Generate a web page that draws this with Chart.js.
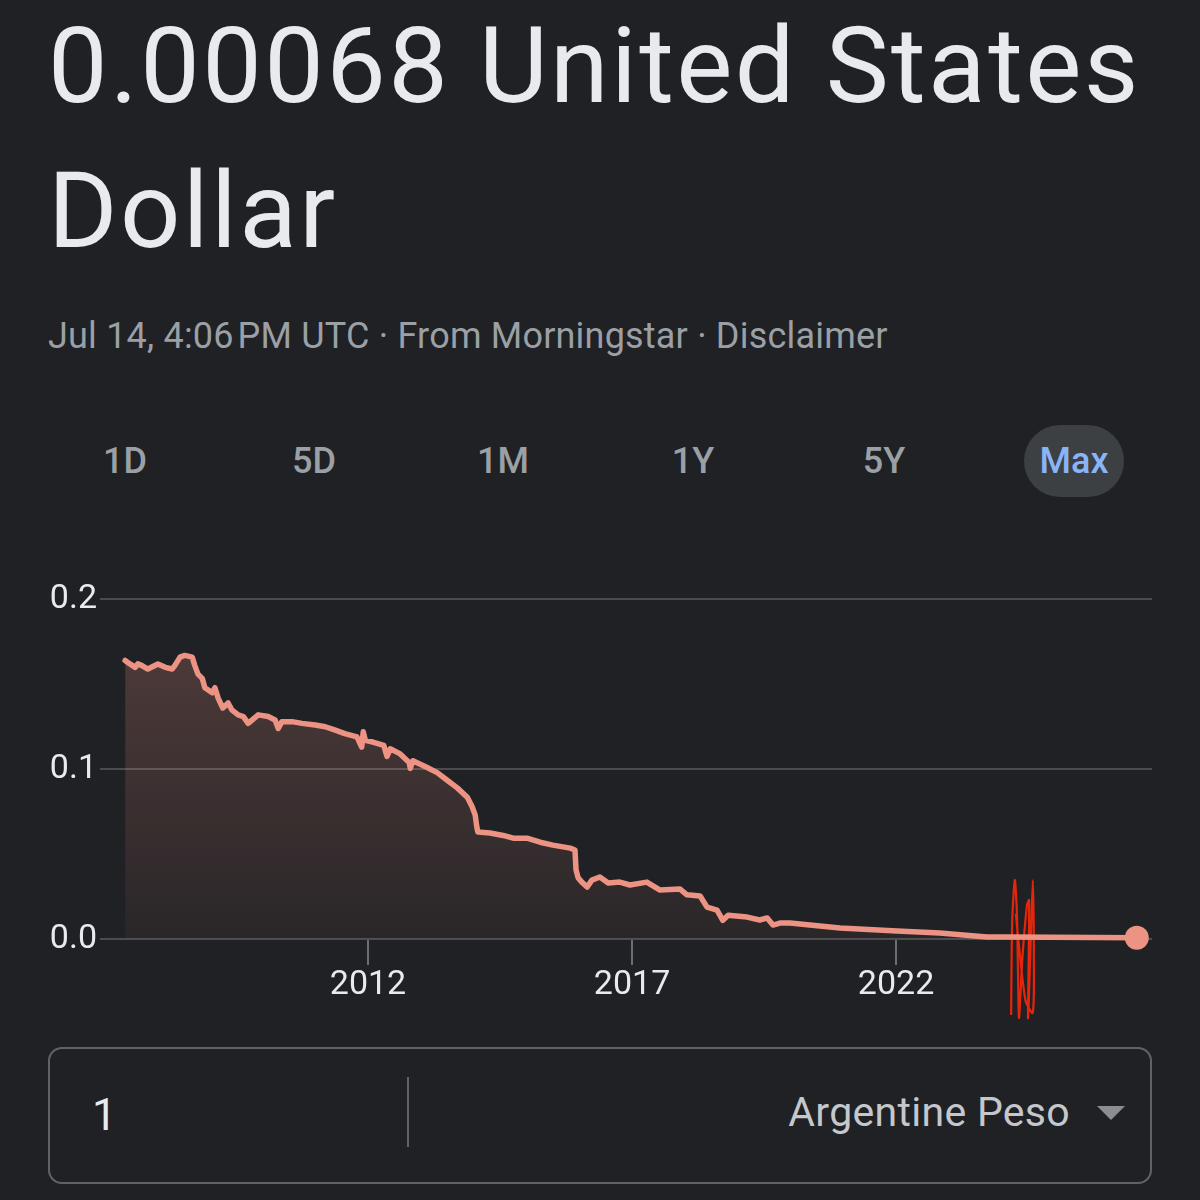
<!DOCTYPE html>
<html>
<head>
<meta charset="utf-8">
<script src="https://cdn.jsdelivr.net/npm/chart.js@4/dist/chart.umd.min.js"></script>
<style>
  html, body { margin: 0; padding: 0; background: #202124; }
  body { width: 1200px; height: 1200px; position: relative; overflow: hidden; font-family: Roboto, "Noto Sans", sans-serif; }
  .title { position: absolute; left: 48px; top: -6px; font-size: 106px; line-height: 145px; color: #e8eaed; font-weight: 400; white-space: nowrap; letter-spacing: 2.4px; }
  .sub { position: absolute; left: 48px; top: 314px; font-size: 36px; line-height: 44px; color: #9aa0a6; white-space: nowrap; letter-spacing: 0.2px; }
  .range { position: absolute; top: 425px; height: 72px; line-height: 72px; font-size: 36px; font-weight: 500; color: #9aa0a6; text-align: center; width: 100px; }
  .range.sel { background: #3c4043; color: #8ab4f8; border-radius: 36px; }
  #wrap { position: absolute; left: 0; top: 576px; width: 1200px; height: 444px; }
  .box { position: absolute; left: 48px; top: 1047px; width: 1100px; height: 133px; border: 2px solid #5f6368; border-radius: 14px; }
  .amt { position: absolute; left: 92px; top: 1090px; font-size: 44px; line-height: 50px; color: #e8eaed; }
  .div { position: absolute; left: 407px; top: 1077px; width: 2px; height: 70px; background: #5f6368; }
  .cur { position: absolute; right: 130px; top: 1088px; font-size: 41px; line-height: 48px; color: #c4c7cc; white-space: nowrap; letter-spacing: 0.3px; }
  .tri { position: absolute; left: 1097px; top: 1106px; width: 0; height: 0; border-left: 14px solid transparent; border-right: 14px solid transparent; border-top: 14px solid #8a8e93; }
</style>
</head>
<body>
<div class="title">0.00068 United States<br>Dollar</div>
<div class="sub">Jul 14, 4:06&#8202;PM UTC · From Morningstar · Disclaimer</div>
<div id="ranges"></div>
<div id="wrap"><canvas id="c" width="1200" height="444"></canvas></div>
<div class="box"></div>
<div class="amt">1</div>
<div class="div"></div>
<div class="cur">Argentine Peso</div>
<div class="tri"></div>
<script>
// ---- Data (decimal year, USD per 1 ARS) ----
const years = [2007.40, 2007.49, 2007.59, 2007.64, 2007.72, 2007.83, 2008.02, 2008.16, 2008.29, 2008.34,
  2008.44, 2008.53, 2008.67, 2008.72, 2008.78, 2008.86, 2008.91, 2009.05, 2009.10, 2009.16,
  2009.25, 2009.35, 2009.42, 2009.54, 2009.64, 2009.73, 2009.92, 2010.11, 2010.24, 2010.30,
  2010.37, 2010.56, 2010.75, 2011.00, 2011.19, 2011.38, 2011.56, 2011.79, 2011.88, 2011.91,
  2011.95, 2012.09, 2012.30, 2012.36, 2012.42, 2012.61, 2012.78, 2012.80, 2012.85, 2013.12,
  2013.31, 2013.50, 2013.69, 2013.88,
  2013.97, 2014.03, 2014.06, 2014.08, 2014.31, 2014.56, 2014.75, 2015.01, 2015.26, 2015.50,
  2015.83, 2015.92, 2015.94, 2015.98, 2016.05, 2016.15, 2016.24, 2016.39, 2016.55, 2016.77,
  2016.96, 2017.28, 2017.53, 2017.91, 2018.04, 2018.29, 2018.42, 2018.61, 2018.72, 2018.82,
  2019.18, 2019.42, 2019.56, 2019.67, 2019.80, 2019.99, 2020.94, 2022.02, 2022.83, 2023.72,
  2024.10, 2026.56];
const values = [0.164, 0.162, 0.160, 0.162, 0.161, 0.159, 0.162, 0.160, 0.159, 0.161,
  0.166, 0.167, 0.166, 0.161, 0.156, 0.1535, 0.148, 0.145, 0.148, 0.142,
  0.136, 0.139, 0.135, 0.132, 0.131, 0.127, 0.132, 0.131, 0.129, 0.124,
  0.128, 0.128, 0.127, 0.126, 0.125, 0.123, 0.121, 0.119, 0.113, 0.122,
  0.117, 0.116, 0.114, 0.1075, 0.112, 0.109, 0.104, 0.1005, 0.105, 0.101,
  0.098, 0.0935, 0.089, 0.0835,
  0.078, 0.073, 0.066, 0.063, 0.0624, 0.061, 0.0594, 0.0594, 0.057, 0.0553,
  0.0535, 0.0524, 0.0406, 0.036, 0.0335, 0.0306, 0.0347, 0.0365, 0.033, 0.0335,
  0.0318, 0.0335, 0.0288, 0.0294, 0.026, 0.0253, 0.0188, 0.017, 0.011, 0.014,
  0.0129, 0.0112, 0.0124, 0.0082, 0.0094, 0.0094, 0.0065, 0.0047, 0.0035, 0.0012,
  0.0012, 0.00068];
const xTickYears = [2012, 2017, 2022];
const yTicks = [0, 0.1, 0.2];
const rangeLabels = ['1D', '5D', '1M', '1Y', '5Y', 'Max'];
const selectedRange = 'Max';
// hand-drawn red mark over the chart (in data units)
const markYears = [2024.18, 2024.20, 2024.25, 2024.29, 2024.31, 2024.33, 2024.39, 2024.48, 2024.52, 2024.50, 2024.54, 2024.59, 2024.61, 2024.59, 2024.45, 2024.30, 2024.27];
const markValues = [-0.0447, 0.0100, 0.0347, 0.0150, -0.0200, -0.0465, -0.0124, 0.020, 0.0229, -0.0465, -0.0124, 0.0347, -0.0124, -0.0435, -0.0359, 0.005, 0.015];

// range buttons
const rangeCenters = [125, 314, 503, 693, 884, 1074];
const rw = document.getElementById('ranges');
rangeLabels.forEach((l, i) => {
  const d = document.createElement('div');
  d.className = 'range' + (l === selectedRange ? ' sel' : '');
  d.textContent = l;
  d.style.left = (rangeCenters[i] - 50) + 'px';
  rw.appendChild(d);
});

const lineColor = '#ec9384';
const ctx = document.getElementById('c').getContext('2d');
new Chart(ctx, {
  type: 'line',
  data: {
    datasets: [{
      label: 'ARS→USD',
      data: years.map((x, i) => ({ x, y: values[i] })),
      borderColor: lineColor,
      borderWidth: 5.5,
      borderJoinStyle: 'round',
      borderCapStyle: 'round',
      pointRadius: c => c.dataIndex === values.length - 1 ? 12 : 0,
      pointBackgroundColor: lineColor,
      pointBorderWidth: 0,
      fill: 'origin',
      tension: 0,
      clip: 20,
      backgroundColor: c => {
        const a = c.chart.chartArea;
        if (!a) return 'rgba(236,147,132,0.15)';
        const g = c.chart.ctx.createLinearGradient(0, a.top, 0, a.bottom);
        g.addColorStop(0, 'rgba(236,147,132,0.25)');
        g.addColorStop(1, 'rgba(236,147,132,0.05)');
        return g;
      }
    }, {
      label: 'mark',
      data: markYears.map((x, i) => ({ x, y: markValues[i] })),
      borderColor: '#e5260a',
      borderWidth: 2.2,
      pointRadius: 0,
      fill: false,
      tension: 0.25,
      clip: false
    }]
  },
  options: {
    responsive: false,
    animation: false,
    devicePixelRatio: 1,
    layout: { padding: { top: 19, right: 48, left: 0, bottom: 0 } },
    plugins: { legend: { display: false }, tooltip: { enabled: false } },
    scales: {
      x: {
        type: 'linear',
        min: 2006.924,
        max: 2026.848,
        afterBuildTicks: s => { s.ticks = xTickYears.map(v => ({ value: v })); },
        afterFit: s => { s.height = 81; },
        grid: { drawOnChartArea: false, drawTicks: true, tickLength: 26, color: '#6b6e73', lineWidth: 2 },
        border: { display: false },
        ticks: { color: '#e8eaed', font: { family: 'Roboto', size: 34 }, padding: 0, maxRotation: 0, callback: v => String(v) }
      },
      y: {
        min: 0,
        max: 0.2,
        afterBuildTicks: s => { s.ticks = yTicks.map(v => ({ value: v })); },
        afterFit: s => { s.width = 100; },
        grid: { color: '#4a4c51', lineWidth: 2, drawTicks: false },
        border: { display: false },
        ticks: { color: '#e8eaed', font: { family: 'Roboto', size: 34 }, padding: 3, callback: v => v.toFixed(1) }
      }
    }
  }
});
</script>
</body>
</html>
